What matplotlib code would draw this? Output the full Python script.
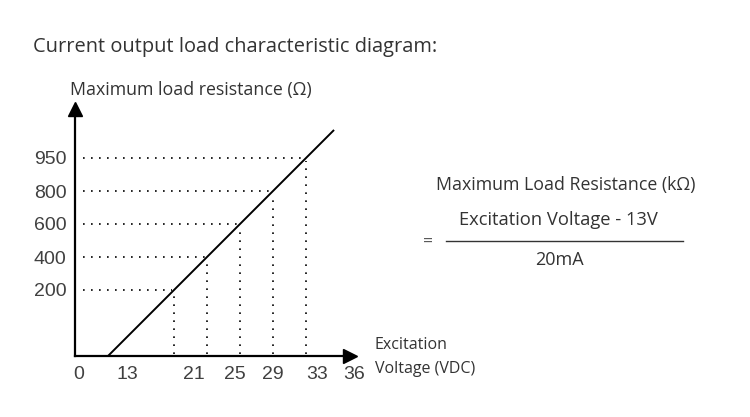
import numpy as np
import matplotlib.pyplot as plt

# ==========================
# Data
# ==========================
x_labels = ["0", "13", "21", "25", "29", "33", "36"]
loads = [200, 400, 600, 800, 950]          # Ω, dotted guide levels
guide_volts = [21, 25, 29, 33, 36]         # V, where guides drop to the axis
start_volt = 13

# schematic layout (diagram is not to scale)
x_label_pos = [0.12, 1.58, 3.6, 4.85, 6.0, 7.33, 8.45]
gx = np.arange(len(loads)) + 3.0
gy = np.arange(len(loads)) + 2.0
x_end, y_end = 8.33, 7.5   # where the axis arrows sit

txt = "#333333"
plt.rcParams["font.family"] = ["Open Sans", "DejaVu Sans"]

fig = plt.figure(figsize=(7.5, 4.17), dpi=100)
ax = fig.add_axes([0.1, 61 / 417, 8.6 * 33 / 750, 7.7 * 33 / 417])
ax.set_xlim(0, 8.6)
ax.set_ylim(0, 7.7)

for s in ["top", "right"]:
    ax.spines[s].set_visible(False)
for s in ["left", "bottom"]:
    ax.spines[s].set_linewidth(1.6)
    ax.spines[s].set_color("black")
ax.spines["bottom"].set_bounds(0, x_end)
ax.spines["left"].set_bounds(0, y_end)

# arrow heads
ax.plot(x_end, 0, ">", color="black", ms=10.5, clip_on=False)
ax.plot(0, y_end, "^", color="black", ms=10.5, clip_on=False)

# characteristic line
line_x = [1.0, gx[-1] + 0.85]
line_y = [0.0, gy[-1] + 0.85]
ax.plot(line_x, line_y, color="black", lw=1.4, solid_capstyle="butt")

# dotted guides
for xx, yy in zip(gx, gy):
    ax.plot([0.24, xx - 0.05], [yy, yy], color="black", lw=1.2, ls=(0, (1, 3.8)))
    ax.plot([xx, xx], [0.05, yy - 0.1], color="black", lw=1.2, ls=(0, (1, 3.8)))

ax.set_xticks(x_label_pos)
ax.set_xticklabels(x_labels)
ax.set_yticks(gy)
ax.set_yticklabels([str(v) for v in loads])
ax.tick_params(length=0, labelsize=14, colors="#404040")
ax.tick_params(axis="x", pad=7)
ax.tick_params(axis="y", pad=6)
for lab in ax.get_xticklabels() + ax.get_yticklabels():
    lab.set_fontfamily("Liberation Sans")

# texts
fig.text(33 / 750, 1 - 47 / 417, "Current output load characteristic diagram:",
         fontsize=14.4, color=txt, va="center", ha="left")
fig.text(70 / 750, 1 - 90 / 417, "Maximum load resistance (Ω)",
         fontsize=12.8, color=txt, va="center", ha="left")
fig.text(375 / 750, 1 - 345 / 417, "Excitation", fontsize=11.5, color=txt, va="center", ha="left")
fig.text(375 / 750, 1 - 369 / 417, "Voltage (VDC)", fontsize=11.5, color=txt, va="center", ha="left")

fig.text(566 / 750, 1 - 185 / 417, "Maximum Load Resistance (kΩ)",
         fontsize=12.8, color=txt, va="center", ha="center")
fig.text(558 / 750, 1 - 220 / 417, "Excitation Voltage - 13V",
         fontsize=13.2, color=txt, va="center", ha="center")
fig.text(559 / 750, 1 - 260 / 417, "20mA", fontsize=13, color=txt, va="center", ha="center")
fig.text(428 / 750, 1 - 243 / 417, "=", fontsize=12.5, color="#555555", va="center", ha="center")
fig.add_artist(plt.Line2D([446 / 750, 683 / 750], [1 - 241 / 417, 1 - 241 / 417],
                          color="#333333", lw=1.0))

fig.savefig("out.png", dpi=100)
